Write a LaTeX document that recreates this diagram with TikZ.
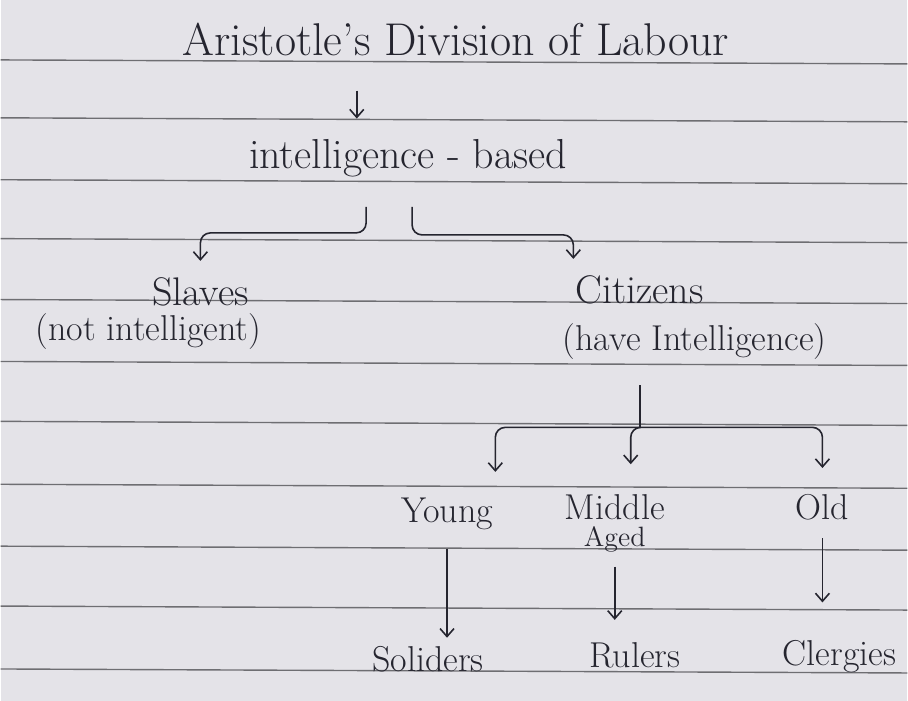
\documentclass[tikz,border=0pt]{standalone}
\usetikzlibrary{positioning, arrows.meta, calc}
\definecolor{paper}{HTML}{E4E3E8}
\definecolor{ruleline}{HTML}{6E6E72}
\definecolor{ink}{HTML}{25252F}

\begin{document}
\begin{tikzpicture}[
        % coordinate in pixel del foglio, asse y verso il basso
        x=0.5pt, y=-0.5pt,
        every node/.style={font=\fontsize{18}{20}\selectfont, text=ink, inner sep=1pt},
        big/.style={font=\fontsize{20}{22}\selectfont},
        huge/.style={font=\fontsize{23}{26}\selectfont},
        small/.style={font=\fontsize{14}{16}\selectfont},
        rule/.style={draw=ruleline, line width=0.7pt},
        branch/.style={draw=ink, line width=0.8pt, rounded corners=5pt},
        arr/.style={branch, -{Straight Barb[length=4pt,width=7pt]}}
    ]

    % foglio a righe
    \fill[paper] (0,0) rectangle (908,702);
    \foreach \y in {60,118,180,239,300,362,422,485,547,607,670}
        \draw[rule] (0,\y) -- (908,\y+4);

    % livello 0 e 1
    \node[huge] (title) at (456,40) {Aristotle's Division of Labour};
    \node[font=\fontsize{21}{24}\selectfont] (based) at (408,158) {intelligence - based};

    % livello 2
    \node[big] (slaves) at (200,292) {Slaves};
    \node (slavesnote) at (148,332) {(not intelligent)};
    \node[big] (citizens) at (640,290) {Citizens};
    \node (citizensnote) at (695,342) {(have Intelligence)};

    % livello 3
    \node (young) at (447,515) {Young};
    \node (middle) at (615,508) {Middle};
    \node[small] (aged) [below=1pt of middle] {Aged};
    \node (old) at (823,508) {Old};

    % livello 4
    \node (soliders) at (428,660) {Soliders};
    \node (rulers) at (635,656) {Rulers};
    \node (clergies) at (840,658) {Clergies};

    % frecce
    \draw[arr, shorten <=16pt, shorten >=9pt]
        ($(title.south west)!0.32!(title.south east)$) coordinate (t1) -- (t1 |- based.north);
    \draw[arr, shorten >=7pt] ($(based.south)+(-42,28)$) -- ++(0,26) -| (slaves.north);
    \draw[arr, shorten >=7pt] ($(based.south)+(4,28)$) -- ++(0,28) -| (citizens.north west);

    \coordinate (stem) at (640,386);
    \coordinate (hub) at (640,428);
    \draw[branch] (stem) -- (hub);
    \draw[arr, shorten >=12pt] (hub) -| (young.north east);
    \draw[arr, shorten >=14pt] (hub) -| ($(middle.north)+(16,0)$);
    \draw[arr, shorten >=12pt] (hub) -| (old.north);

    \draw[arr, shorten <=8pt, shorten >=3pt] (young.south) -- (young.south |- soliders.north);
    \draw[arr, shorten <=6pt, shorten >=10pt] (aged.south) -- (aged.south |- rulers.north);
    \draw[arr, shorten <=8pt, shorten >=18pt] (old.south) -- (old.south |- clergies.north);
\end{tikzpicture}
\end{document}
